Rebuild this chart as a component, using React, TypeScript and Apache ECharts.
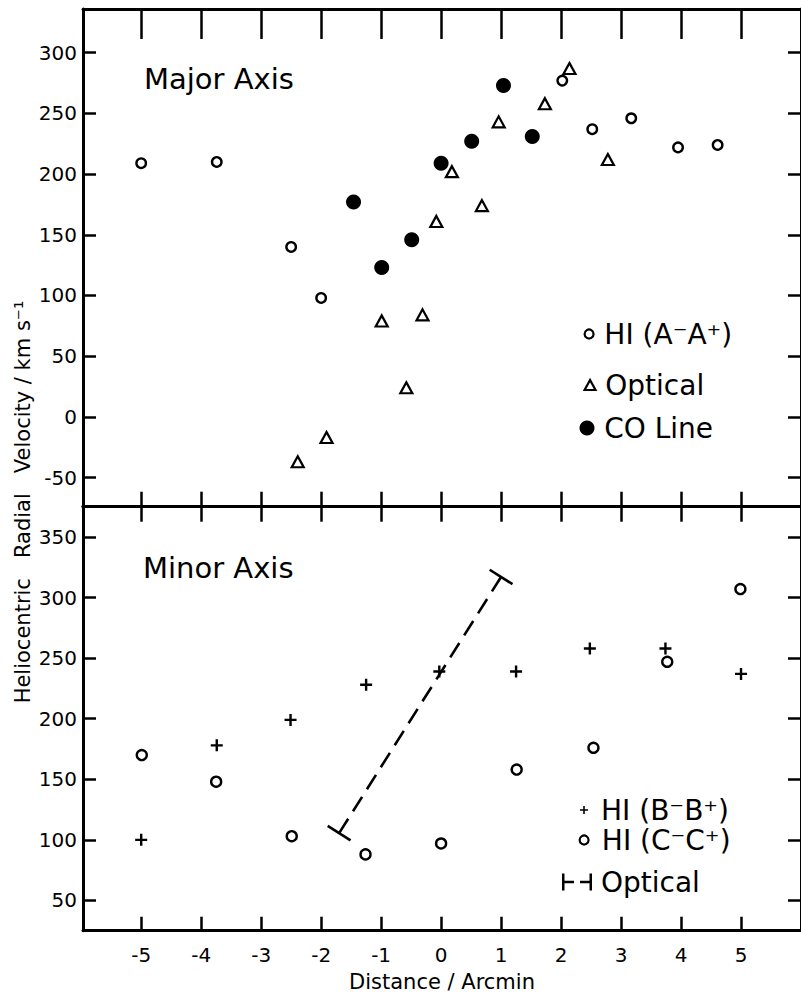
import React, { useEffect, useRef } from 'react';
import * as echarts from 'echarts';

const FONT = 'DejaVu Sans';

// tick values
const xTicks = [-5, -4, -3, -2, -1, 0, 1, 2, 3, 4, 5];
const majorYTicks = [-50, 0, 50, 100, 150, 200, 250, 300];
const minorYTicks = [50, 100, 150, 200, 250, 300, 350];

// Major axis panel
const hiA = [
  [-5.0, 209], [-3.74, 210], [-2.5, 140], [-2.0, 98], [2.02, 277],
  [2.52, 237], [3.17, 246], [3.95, 222], [4.61, 224],
];
const opticalMajor = [
  [-2.39, -37], [-1.91, -17], [-0.99, 79], [-0.58, 24], [-0.31, 84],
  [-0.08, 161], [0.18, 202], [0.68, 174], [0.96, 243], [1.73, 258],
  [2.14, 287], [2.78, 212],
];
const coLine = [
  [-1.46, 177], [-0.99, 123], [-0.49, 146], [0.0, 209], [0.51, 227],
  [1.04, 273], [1.52, 231],
];

// Minor axis panel
const hiB = [
  [-5.0, 100], [-3.74, 178], [-2.51, 199], [-1.25, 228], [-0.03, 239],
  [1.25, 239], [2.48, 258], [3.74, 258], [5.0, 237],
];
const hiC = [
  [-4.99, 170], [-3.75, 148], [-2.49, 103], [-1.26, 88], [0.0, 97],
  [1.26, 158], [2.54, 176], [3.77, 247], [4.99, 307],
];
// optical velocity gradient: [x1, y1, x2, y2]
const opticalMinor = [[-1.70, 105.5, 1.0, 317]];

const names: Record<string, string> = {
  hiA: 'HI (A⁻A⁺)',
  optMajor: 'Optical',
  co: 'CO Line',
  hiB: 'HI (B⁻B⁺)',
  hiC: 'HI (C⁻C⁺)',
  optMinor: 'Optical',
};

const PLUS = 'path://M4,0H6V4H10V6H6V10H4V6H0V4H4Z';
const TRI = 'path://M6,0L12,11L0,11Z';
const BAR_ICON = 'path://M0,0H2.5V17H0Z M2.5,7.3H12V9.7H2.5Z M18,7.3H27.5V9.7H18Z M27.5,0H30V17H27.5Z';

const XMIN = -5.97;
const XMAX = 6;
const axisLine = { show: true, onZero: false, lineStyle: { color: '#000', width: 3 } };
const tickLine = { color: '#000', width: 2.5 };
const labelStyle = { fontFamily: FONT, fontSize: 20, color: '#000' };

function xAxisDef(gridIndex: number, position: string, length: number, labels: boolean) {
  const a: any = {
    type: 'value', gridIndex, position, min: XMIN, max: XMAX,
    axisLine,
    axisTick: { show: true, inside: true, length, customValues: xTicks, lineStyle: tickLine },
    axisLabel: { show: false },
    splitLine: { show: false },
  };
  if (labels) {
    a.axisLabel = { show: true, customValues: xTicks, margin: 14, ...labelStyle };
    a.name = 'Distance / Arcmin';
    a.nameLocation = 'middle';
    a.nameGap = 41;
    a.nameTextStyle = { fontFamily: FONT, fontSize: 21, color: '#000' };
  }
  return a;
}

function yAxisDef(gridIndex: number, position: string, min: number, max: number, ticks: number[], labels: boolean) {
  return {
    type: 'value', gridIndex, position, min, max,
    axisLine,
    axisTick: { show: true, inside: true, length: 13, customValues: ticks, lineStyle: tickLine },
    axisLabel: labels ? { show: true, customValues: ticks, margin: 6, ...labelStyle } : { show: false },
    splitLine: { show: false },
  };
}

const legendBase = {
  orient: 'vertical', padding: 0, itemGap: 0, selectedMode: false,
  textStyle: { fontFamily: FONT, fontSize: 28, color: '#000' },
  formatter: (n: string) => names[n] ?? n,
};
const hollowLegend = { color: '#fff', borderColor: '#000', borderWidth: 2.2, opacity: 1 };
const solidLegend = { color: '#000', borderWidth: 0, opacity: 1 };

function buildOption(): any {
  return {
    animation: false,
    backgroundColor: '#fff',
    grid: [
      { left: 83, top: 9, width: 720, height: 497.7 },
      { left: 83, top: 506.7, width: 720, height: 424 },
    ],
    xAxis: [
      xAxisDef(0, 'top', 30, false),
      xAxisDef(0, 'bottom', 15, false),
      xAxisDef(1, 'top', 15, false),
      xAxisDef(1, 'bottom', 14, true),
    ],
    yAxis: [
      yAxisDef(0, 'left', -74, 336, majorYTicks, true),
      yAxisDef(0, 'right', -74, 336, majorYTicks, false),
      yAxisDef(1, 'left', 25, 375, minorYTicks, true),
      yAxisDef(1, 'right', 25, 375, minorYTicks, false),
    ],
    legend: [
      { ...legendBase, data: ['hiA'], left: 583.5, top: 320, itemWidth: 20.5, itemHeight: 9, itemStyle: hollowLegend },
      { ...legendBase, data: ['optMajor'], left: 583.5, top: 371, itemWidth: 20.5, itemHeight: 10, itemStyle: hollowLegend },
      { ...legendBase, data: ['co'], left: 579.5, top: 414, itemWidth: 24.5, itemHeight: 15, itemStyle: solidLegend },
      { ...legendBase, data: ['hiB'], left: 580, top: 796, itemWidth: 24, itemHeight: 8, itemStyle: solidLegend },
      { ...legendBase, data: ['hiC'], left: 578.5, top: 826, itemWidth: 25.5, itemHeight: 9, itemStyle: hollowLegend },
      { ...legendBase, data: [{ name: 'optMinor', icon: BAR_ICON }], left: 562, top: 868, itemWidth: 38, itemHeight: 17, itemStyle: solidLegend },
    ],
    graphic: [
      { type: 'text', x: 144, y: 79, style: { text: 'Major Axis', fontFamily: FONT, fontSize: 29, fill: '#000', align: 'left', verticalAlign: 'middle' } },
      { type: 'text', x: 143, y: 567.5, style: { text: 'Minor Axis', fontFamily: FONT, fontSize: 29, fill: '#000', align: 'left', verticalAlign: 'middle' } },
      { type: 'text', x: 23, y: 502, rotation: Math.PI / 2, style: { text: 'Heliocentric   Radial   Velocity / km s⁻¹', fontFamily: FONT, fontSize: 21, fill: '#000', align: 'center', verticalAlign: 'middle' } },
    ],
    series: [
      {
        name: 'optMajor', type: 'scatter', xAxisIndex: 1, yAxisIndex: 0, data: opticalMajor,
        symbol: TRI, symbolSize: [12, 11],
        itemStyle: { color: '#fff', borderColor: '#000', borderWidth: 2.2, opacity: 1 },
      },
      {
        name: 'hiA', type: 'scatter', xAxisIndex: 1, yAxisIndex: 0, data: hiA,
        symbol: 'circle', symbolSize: 9.5,
        itemStyle: { color: '#fff', borderColor: '#000', borderWidth: 2.4, opacity: 1 },
      },
      {
        name: 'co', type: 'scatter', xAxisIndex: 1, yAxisIndex: 0, data: coLine,
        symbol: 'circle', symbolSize: 15, itemStyle: { color: '#000', opacity: 1 },
      },
      {
        name: 'hiB', type: 'scatter', xAxisIndex: 3, yAxisIndex: 2, data: hiB,
        symbol: PLUS, symbolSize: 12, itemStyle: { color: '#000', opacity: 1 },
      },
      {
        name: 'hiC', type: 'scatter', xAxisIndex: 3, yAxisIndex: 2, data: hiC,
        symbol: 'circle', symbolSize: 10, itemStyle: { color: '#fff', borderColor: '#000', borderWidth: 2.4, opacity: 1 },
      },
      {
        name: 'optMinor', type: 'custom', xAxisIndex: 3, yAxisIndex: 2, data: opticalMinor,
        encode: { x: [0, 2], y: [1, 3] },
        itemStyle: { color: '#000' },
        renderItem: (_params: any, api: any) => {
          const p1 = api.coord([api.value(0), api.value(1)]);
          const p2 = api.coord([api.value(2), api.value(3)]);
          const dx = p2[0] - p1[0];
          const dy = p2[1] - p1[1];
          const len = Math.hypot(dx, dy) || 1;
          const half = 13.5;
          const nx = (-dy / len) * half;
          const ny = (dx / len) * half;
          const st = { stroke: '#000', lineWidth: 2.6, fill: null };
          return {
            type: 'group',
            children: [
              { type: 'line', shape: { x1: p1[0], y1: p1[1], x2: p2[0], y2: p2[1] }, style: { ...st, lineDash: [17, 9] } },
              { type: 'line', shape: { x1: p1[0] - nx, y1: p1[1] - ny, x2: p1[0] + nx, y2: p1[1] + ny }, style: st },
              { type: 'line', shape: { x1: p2[0] - nx, y1: p2[1] - ny, x2: p2[0] + nx, y2: p2[1] + ny }, style: st },
            ],
          };
        },
      },
    ],
  };
}

export default function App() {
  const ref = useRef<HTMLDivElement>(null);
  useEffect(() => {
    if (!ref.current) return;
    const chart = echarts.init(ref.current, null, { renderer: 'svg' });
    chart.setOption(buildOption());
    return () => chart.dispose();
  }, []);
  return (
    <div
      ref={ref}
      style={{ position: 'fixed', left: 0, top: 0, width: 801, height: 994, background: '#fff' }}
    />
  );
}
